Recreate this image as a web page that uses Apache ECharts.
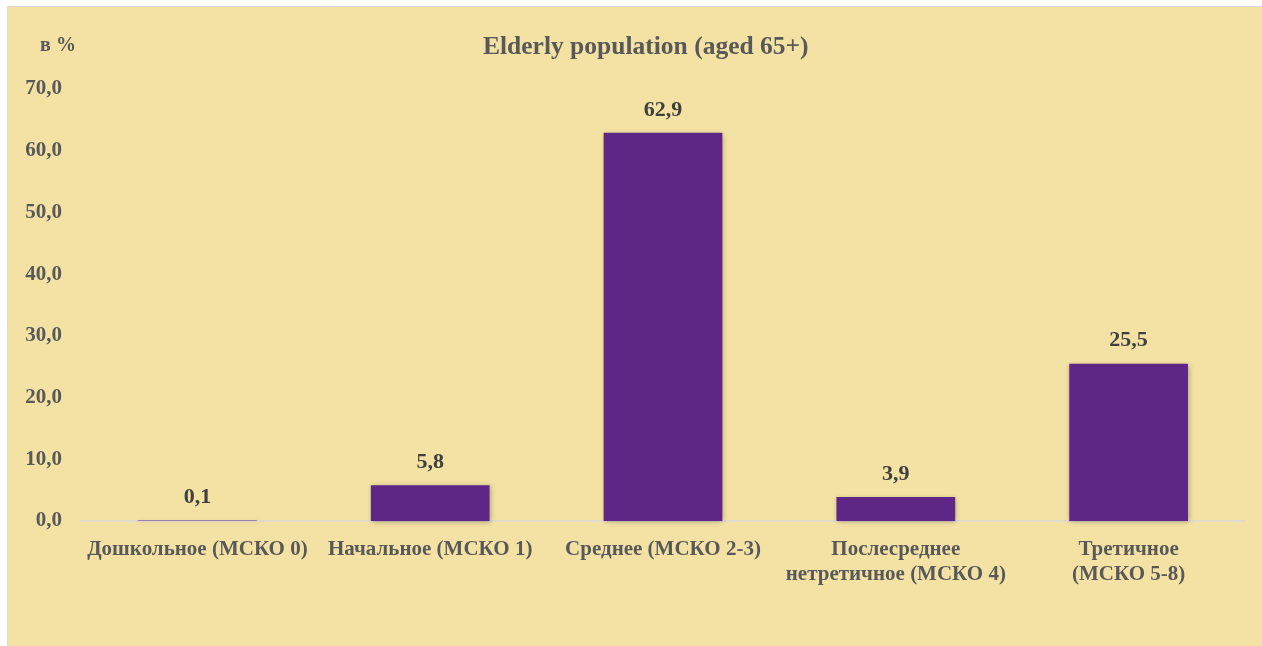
<!DOCTYPE html>
<html>
<head>
<meta charset="utf-8">
<script src="https://cdn.jsdelivr.net/npm/echarts@6/dist/echarts.min.js"></script>
<style>
html,body{margin:0;padding:0;background:#ffffff;}
#chart{width:1262px;height:646px;}
</style>
</head>
<body>
<div id="chart"></div>
<script>
const titleText = 'Elderly population (aged 65+)';
const yAxisName = 'в %';
const categories = ['Дошкольное (МСКО 0)', 'Начальное (МСКО 1)', 'Среднее (МСКО 2-3)', 'Послесреднее\nнетретичное (МСКО 4)', 'Третичное\n(МСКО 5-8)'];
const values = [0.1, 5.8, 62.9, 3.9, 25.5];
const yMin = 0, yMax = 70, yStep = 10;

const fmt = v => Number(v).toFixed(1).replace('.', ',');
const font = '"Liberation Serif", "Times New Roman", serif';

const chart = echarts.init(document.getElementById('chart'));
chart.setOption({
  backgroundColor: '#ffffff',
  animation: false,
  graphic: [{
    type: 'rect', z: -10, silent: true,
    shape: {x: 7.5, y: 6.5, width: 1300, height: 700},
    style: {fill: '#F4E2A4', stroke: '#d9d9d9', lineWidth: 1}
  }],
  title: {
    text: titleText, left: 478, top: 29,
    textStyle: {fontFamily: font, fontSize: 25.5, fontWeight: 'bold', color: '#595959'}
  },
  grid: {left: 81, right: 17, top: 89, bottom: 125, containLabel: false},
  xAxis: {
    type: 'category', data: categories,
    axisLine: {show: true, lineStyle: {color: '#d9d9d9', width: 1.5}},
    axisTick: {show: false},
    axisLabel: {interval: 0, margin: 16, lineHeight: 25, fontFamily: font, fontSize: 21, fontWeight: 'bold', color: '#595959'}
  },
  yAxis: {
    type: 'value', min: yMin, max: yMax, interval: yStep,
    name: yAxisName, nameLocation: 'end', nameGap: 33,
    nameTextStyle: {fontFamily: font, fontSize: 20, fontWeight: 'bold', color: '#595959', align: 'center', padding: [0, 0, 0, -46]},
    axisLine: {show: false}, axisTick: {show: false},
    splitLine: {show: false},
    axisLabel: {formatter: fmt, margin: 19, fontFamily: font, fontSize: 21, fontWeight: 'bold', color: '#595959'}
  },
  series: [{
    type: 'bar', data: values, barWidth: '51%',
    itemStyle: {color: '#5F2785', shadowBlur: 5, shadowColor: 'rgba(0,0,0,0.3)', shadowOffsetX: 1, shadowOffsetY: 1},
    label: {show: true, position: 'top', distance: 12, formatter: p => fmt(p.value),
      fontFamily: font, fontSize: 22, fontWeight: 'bold', color: '#404040'}
  }]
});
</script>
</body>
</html>
